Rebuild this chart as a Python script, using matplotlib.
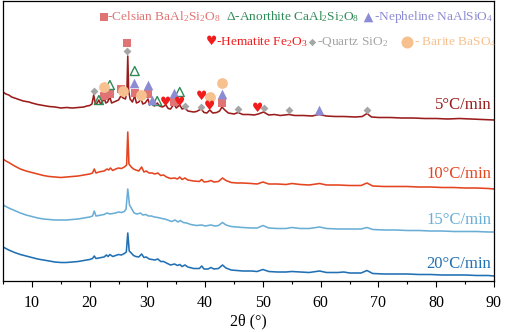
import numpy as np
import matplotlib
matplotlib.use("Agg")
import matplotlib.pyplot as plt
from matplotlib.ticker import MultipleLocator

plt.rcParams['font.family'] = ['Liberation Serif', 'DejaVu Sans']
plt.rcParams['mathtext.default'] = 'regular'

# XRD patterns, stacked (2theta, intensity a.u.)
pat_5 = [(5, 189), (5.5, 187), (6, 186), (6.5, 184), (7, 183), (7.5, 182), (8, 181), (8.5, 180),
         (9, 179.5), (9.5, 179), (10, 178), (11, 176.5), (12, 175.5), (13, 174.5), (14, 174), (15, 173),
         (16, 173.5), (17, 173), (18, 173.5), (19, 174), (19.5, 175), (20, 175.5), (20.4, 177), (20.7, 186),
         (21.0, 177), (21.3, 178), (21.6, 181), (21.9, 177), (22.2, 179), (22.5, 183), (22.8, 178), (23.1, 179),
         (23.5, 184), (23.8, 178), (24.2, 179), (24.6, 180), (25.0, 181), (25.4, 185), (25.8, 183), (26.2, 182),
         (26.45, 190), (26.6, 225), (26.75, 190), (27.0, 182), (27.4, 179), (27.8, 185), (28.1, 178), (28.5, 179),
         (28.9, 182), (29.2, 177), (29.6, 178), (30.1, 182), (30.4, 176), (30.8, 179), (31.2, 175), (31.7, 178),
         (32.1, 175), (32.6, 174), (33.2, 176), (33.6, 172.5), (34.0, 172), (34.6, 177), (35.0, 173), (35.6, 176),
         (36.0, 172), (36.5, 173), (37.0, 170), (37.5, 169.5), (38.0, 169), (38.5, 169.5), (39.3, 172), (39.8, 168.5),
         (40.3, 168), (40.8, 171), (41.3, 168), (42.0, 168.5), (42.5, 170), (42.9, 174), (43.4, 171), (44.0, 168),
         (45.0, 167), (45.7, 168.5), (46.5, 166.5), (47.5, 166.5), (48.5, 166), (49.2, 167), (50.1, 169), (51.0, 166),
         (52.0, 166.5), (53.0, 165.5), (54.5, 166.5), (55.5, 165.5), (57.0, 165.5), (58.5, 165), (59.7, 166.5),
         (61.0, 165), (62.5, 164.5), (64.0, 164.5), (66.0, 164), (67.2, 164.5), (68.0, 167.5), (68.8, 164),
         (70.0, 163.5), (72.0, 163.5), (74.0, 163), (76.0, 163), (78.0, 162.5), (80.0, 162.5), (82.0, 162),
         (84.0, 162.5), (86.0, 162), (88.0, 161.5), (90.0, 161)]

pat_10 = [(5, 122), (5.5, 120), (6, 118.5), (7, 115), (8, 112), (9, 110), (10, 108.5), (11, 107), (12, 105.5),
          (13, 104.5), (14, 104), (15, 103.5), (16, 104), (17, 104.5), (18, 105), (19, 106), (20, 107), (20.5, 108),
          (20.8, 112), (21.1, 108), (21.6, 109), (22.0, 109.5), (22.5, 110), (23.0, 112), (23.3, 111), (23.6, 113),
          (24.0, 110.5), (24.5, 112), (25.0, 113), (25.5, 112.5), (26.0, 114), (26.4, 116), (26.6, 149), (26.8, 117),
          (27.2, 114), (27.6, 112), (28.0, 111), (28.5, 110), (29.0, 114), (29.4, 109), (29.8, 110), (30.3, 108),
          (30.8, 108), (31.3, 107), (31.8, 108), (32.3, 105.5), (32.8, 106), (33.3, 104), (34.0, 102.5), (34.7, 103),
          (35.2, 102), (35.6, 104), (36.0, 101.5), (36.5, 103), (37.0, 101), (38.0, 100), (39.0, 99.5), (39.4, 101.5),
          (39.8, 99), (40.5, 99.5), (41.0, 100.5), (41.5, 99), (42.3, 99.5), (43.0, 103), (43.6, 100.5), (44.5, 98.5),
          (45.5, 98), (46.5, 98), (48.0, 97.5), (49.0, 97), (50.0, 99), (51.0, 97), (52.5, 97), (54.0, 96.5),
          (55.0, 97.5), (56.5, 96.5), (58.0, 96), (59.8, 97.5), (61.0, 96), (63.0, 96), (65.0, 95.5), (67.0, 95.5),
          (68.0, 98), (69.0, 95), (71.0, 94.5), (73.0, 94.5), (75.0, 94.5), (77.0, 94), (79.0, 94), (81.0, 93.5),
          (83.0, 93.5), (85.0, 93), (87.0, 93), (89.0, 92.5), (90.0, 92)]

pat_15 = [(5, 76), (5.5, 74.5), (6, 73), (7, 70.5), (8, 68), (9, 66), (10, 64.5), (11, 63), (12, 62), (13, 61.5),
          (14, 61), (15, 61), (16, 61), (17, 61.5), (18, 62), (19, 63), (20, 64), (20.5, 65), (20.8, 70), (21.1, 65),
          (21.6, 65.5), (22.0, 66), (22.5, 66.5), (23.0, 68), (23.5, 67), (24.0, 67.5), (24.5, 68), (25.0, 69),
          (25.5, 68.5), (26.0, 69.5), (26.3, 72), (26.6, 92), (26.9, 76), (27.3, 72), (27.7, 68), (28.2, 67),
          (28.8, 68), (29.2, 66), (29.7, 66.5), (30.2, 65), (30.7, 65), (31.2, 64), (31.8, 63.5), (32.5, 62.5),
          (33.0, 62), (33.5, 61), (34.2, 59.5), (34.8, 61), (35.3, 59), (35.7, 60.5), (36.2, 58.5), (36.8, 58),
          (37.5, 56.5), (38.5, 55.5), (39.4, 56), (40.0, 55), (41.0, 56), (41.7, 55), (42.3, 55.5), (43.0, 58.5),
          (43.6, 56), (44.5, 54.5), (45.5, 54), (46.5, 53.5), (48.0, 53), (49.0, 53), (50.0, 55.5), (51.0, 53),
          (52.5, 52.5), (54.0, 52.5), (55.0, 53.5), (56.5, 52.5), (58.0, 52.5), (59.8, 54), (61.0, 52.5), (63.0, 52),
          (65.0, 52), (67.0, 52), (68.0, 53.5), (69.0, 51.5), (71.0, 51), (73.0, 51), (75.0, 50.5), (77.0, 50.5),
          (79.0, 50), (81.0, 50), (83.0, 49.5), (85.0, 49.5), (87.0, 49.5), (89.0, 49), (90.0, 49)]

pat_20 = [(5, 34), (5.5, 32.5), (6, 31), (7, 28.5), (8, 26.5), (9, 25), (10, 23.5), (11, 22), (12, 21), (13, 20),
          (14, 19), (15, 18.5), (16, 18.5), (17, 19), (18, 19.5), (19, 20.5), (20, 21.5), (20.5, 22.5), (20.8, 25),
          (21.1, 22.5), (21.6, 23), (22.0, 23.5), (22.5, 24), (22.9, 26), (23.2, 24.5), (23.5, 26.5), (24.0, 24.5),
          (24.5, 25.5), (25.0, 26.5), (25.5, 26), (26.0, 27.5), (26.35, 29), (26.6, 48), (26.85, 30), (27.2, 28),
          (27.6, 25.5), (28.0, 24.5), (28.5, 24), (29.0, 27), (29.4, 23.5), (29.8, 24), (30.3, 22), (30.8, 21.5),
          (31.3, 21), (31.8, 22), (32.3, 19.5), (32.8, 19.5), (33.3, 18), (34.0, 16), (34.7, 17), (35.2, 15.5),
          (35.6, 16.5), (36.0, 14.5), (36.5, 16), (37.0, 14), (38.0, 12.5), (39.0, 12.5), (39.4, 15), (39.8, 12),
          (40.5, 12), (41.0, 13.5), (41.5, 12), (42.3, 12.5), (43.0, 16), (43.6, 13), (44.5, 11), (45.5, 10.5),
          (46.5, 10), (48.0, 10), (49.0, 9.5), (50.0, 11.5), (51.0, 9.5), (52.5, 9), (54.0, 9), (55.0, 9.5),
          (56.5, 9), (58.0, 8.5), (59.8, 10), (61.0, 8.5), (63.0, 8.5), (64.0, 9), (65.0, 8), (67.0, 8),
          (68.0, 10.5), (69.0, 7.5), (71.0, 7), (73.0, 7), (75.0, 7), (77.0, 6.5), (79.0, 6.5), (81.0, 6),
          (83.0, 6), (85.0, 6), (87.0, 5.5), (89.0, 5.5), (90.0, 5)]

rate_labels = ['5°C/min', '10°C/min', '15°C/min', '20°C/min']
rate_colors = ['#9b1c1c', '#e4441f', '#6aaed6', '#2170b4']
label_y = [176, 107, 61, 17]

# phase markers on the 5°C/min pattern
celsian = [(22.5, 185), (23.5, 187), (25.4, 192), (26.5, 238), (27.8, 188), (30.1, 187), (34.6, 179), (42.9, 178)]
anorthite = [(21.6, 181), (23.5, 196), (27.8, 210), (31.7, 180), (35.6, 189)]
nepheline = [(27.7, 198), (30.1, 196), (30.8, 181), (34.6, 188), (42.9, 187), (59.7, 171)]
hematite = [(33.2, 178), (35.6, 179), (39.3, 184), (40.8, 175), (49.1, 173)]
quartz = [(20.7, 190), (26.5, 230), (36.5, 175), (39.3, 174), (45.7, 172), (50.2, 173), (54.5, 171), (68.0, 171)]
barite = [(22.5, 194), (25.8, 190), (28.9, 186), (40.8, 184), (42.9, 198)]

c_cel, c_ano, c_nep = '#e07474', '#2e8b57', '#8c8cd4'
c_hem, c_qtz, c_bar = '#f21c1c', '#a5a5a5', '#f7c18f'

fig = plt.figure(figsize=(5.05, 3.32), dpi=100)
ax = fig.add_axes([3 / 505, 51 / 332, 491 / 505, 280 / 332])

for pat, col in zip([pat_5, pat_10, pat_15, pat_20], rate_colors):
    tt, inten = np.array(pat).T
    ax.plot(tt, inten, color=col, lw=1.15)

for lab, col, yy in zip(rate_labels, rate_colors, label_y):
    ax.text(89.5, yy, lab, color=col, fontsize=12, ha='right', va='center')

def xy(pts):
    a = np.array(pts)
    return a[:, 0], a[:, 1]

ax.scatter(*xy(celsian), marker='s', s=28, color=c_cel, zorder=3, lw=0)
ax.scatter(*xy(anorthite), marker='^', s=42, facecolors='none', edgecolors=c_ano, lw=1.0, zorder=3)
ax.scatter(*xy(nepheline), marker='^', s=48, color=c_nep, zorder=3, lw=0)
ax.scatter(*xy(quartz), marker='D', s=16, color=c_qtz, zorder=3, lw=0)
ax.scatter(*xy(barite), marker='o', s=60, color=c_bar, zorder=3, lw=0)
for t, v in hematite:
    ax.text(t, v, '\u2665', color=c_hem, fontsize=9, ha='center', va='center',
            family=['DejaVu Sans'], zorder=3)

# legend row 1
tr = ax.transAxes
fs = 9.6
ax.scatter([0.205], [0.943], marker='s', s=28, color=c_cel, transform=tr, lw=0, clip_on=False)
ax.text(0.212, 0.943, '-Celsian BaAl$_2$Si$_2$O$_8$', color=c_cel, fontsize=fs,
        transform=tr, va='center', ha='left')
ax.text(0.455, 0.943, '\u0394-Anorthite CaAl$_2$Si$_2$O$_8$', color=c_ano, fontsize=fs,
        transform=tr, va='center', ha='left')
ax.scatter([0.743], [0.943], marker='^', s=48, color=c_nep, transform=tr, lw=0, clip_on=False)
ax.text(0.756, 0.943, '-Nepheline NaAlSiO$_4$', color=c_nep, fontsize=fs,
        transform=tr, va='center', ha='left')
# legend row 2
ax.text(0.424, 0.854, '\u2665', color=c_hem, fontsize=9, transform=tr, ha='center', va='center',
        family=['DejaVu Sans'])
ax.text(0.433, 0.854, '-Hematite Fe$_2$O$_3$', color=c_hem, fontsize=fs,
        transform=tr, va='center', ha='left')
ax.scatter([0.630], [0.854], marker='D', s=14, color=c_qtz, transform=tr, lw=0, clip_on=False)
ax.text(0.640, 0.854, '-Quartz SiO$_2$', color=c_qtz, fontsize=fs,
        transform=tr, va='center', ha='left')
ax.scatter([0.823], [0.854], marker='o', s=75, color=c_bar, transform=tr, lw=0, clip_on=False)
ax.text(0.837, 0.854, '- Barite BaSO$_4$', color=c_bar, fontsize=fs,
        transform=tr, va='center', ha='left')

ax.set_xlim(5, 90)
ax.set_ylim(0, 280)
ax.set_yticks([])
ax.xaxis.set_major_locator(MultipleLocator(10))
ax.xaxis.set_minor_locator(MultipleLocator(5))
ax.tick_params(axis='x', which='major', direction='out', length=4, width=0.8, labelsize=11.5, pad=6)
ax.tick_params(axis='x', which='minor', direction='out', length=2.5, width=0.8)
for sp in ax.spines.values():
    sp.set_linewidth(0.9)
ax.set_xlabel('2\u03b8 (°)', fontsize=11.5, labelpad=2)

fig.savefig('out.png', dpi=100)
